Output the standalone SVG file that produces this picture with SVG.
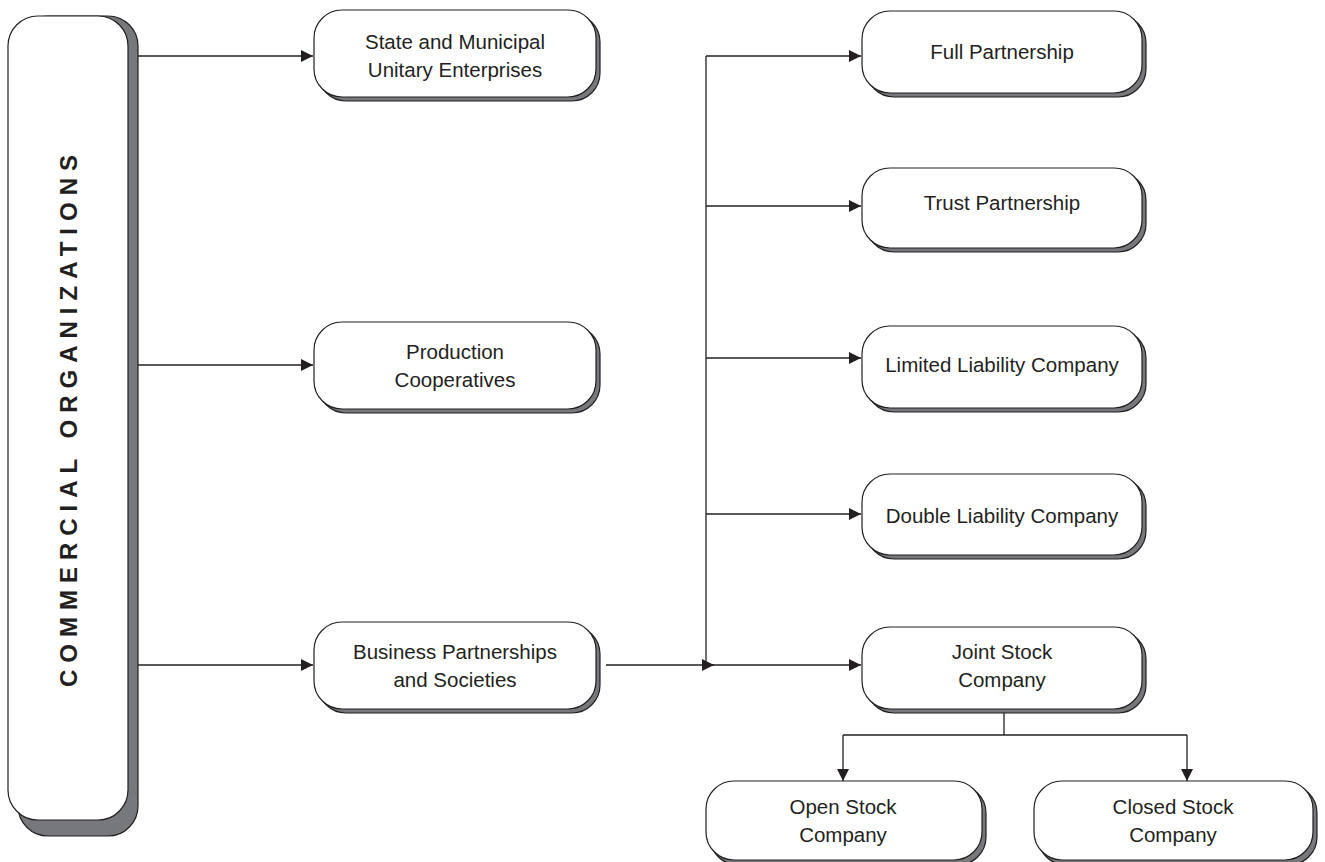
<svg xmlns="http://www.w3.org/2000/svg" width="1325" height="862" viewBox="0 0 1325 862">
<defs>
<style>
.sh{fill:#77787b;stroke:#231f20;stroke-width:1.2}
.bx{fill:#fff;stroke:#231f20;stroke-width:1.2}
.t{font-family:"Liberation Sans",Arial,sans-serif;font-size:20.5px;fill:#231f20;text-anchor:middle}
.ln{fill:none;stroke:#231f20;stroke-width:1.3}
</style>
<marker id="ah" viewBox="0 0 12 12" refX="12" refY="6" markerWidth="12" markerHeight="12" markerUnits="userSpaceOnUse" orient="auto">
<path d="M0,0 L12,6 L0,12 Z" fill="#231f20"/>
</marker>
</defs>
<rect width="1325" height="862" fill="#fff"/>
<g id="commercial">
<rect class="sh" x="18" y="16" width="120" height="820" rx="30"/>
<rect class="bx" x="8" y="16" width="120" height="804" rx="30"/>
<text transform="translate(77,417.5) rotate(-90)" font-family="'Liberation Sans',Arial,sans-serif" font-size="24" font-weight="bold" letter-spacing="7" fill="#231f20" text-anchor="middle">COMMERCIAL ORGANIZATIONS</text>
</g>
<g id="connectors">
<path class="ln" d="M138,56 H313" marker-end="url(#ah)"/>
<path class="ln" d="M138,365 H313" marker-end="url(#ah)"/>
<path class="ln" d="M138,665 H313" marker-end="url(#ah)"/>
<path class="ln" d="M606,665 H714" marker-end="url(#ah)"/>
<path class="ln" d="M706,665 V56"/>
<path class="ln" d="M706,56 H861" marker-end="url(#ah)"/>
<path class="ln" d="M706,206 H861" marker-end="url(#ah)"/>
<path class="ln" d="M706,358 H861" marker-end="url(#ah)"/>
<path class="ln" d="M706,514 H861" marker-end="url(#ah)"/>
<path class="ln" d="M706,665 H861" marker-end="url(#ah)"/>
<path class="ln" d="M1004,713 V735"/>
<path class="ln" d="M843,735 H1187"/>
<path class="ln" d="M843,735 V781" marker-end="url(#ah)"/>
<path class="ln" d="M1187,735 V781" marker-end="url(#ah)"/>
</g>
<g id="state">
<rect class="sh" x="318" y="14" width="282" height="87" rx="28"/>
<rect class="bx" x="314" y="10" width="282" height="87" rx="28"/>
<text class="t" x="455" y="49">State and Municipal</text>
<text class="t" x="455" y="77">Unitary Enterprises</text>
</g>
<g id="production">
<rect class="sh" x="318" y="326" width="282" height="87" rx="28"/>
<rect class="bx" x="314" y="322" width="282" height="87" rx="28"/>
<text class="t" x="455" y="359">Production</text>
<text class="t" x="455" y="387">Cooperatives</text>
</g>
<g id="business">
<rect class="sh" x="318" y="626" width="282" height="87" rx="28"/>
<rect class="bx" x="314" y="622" width="282" height="87" rx="28"/>
<text class="t" x="455" y="659">Business Partnerships</text>
<text class="t" x="455" y="687">and Societies</text>
</g>
<g id="full">
<rect class="sh" x="866" y="15" width="280" height="82" rx="28"/>
<rect class="bx" x="862" y="11" width="280" height="82" rx="28"/>
<text class="t" x="1002" y="59">Full Partnership</text>
</g>
<g id="trust">
<rect class="sh" x="866" y="172" width="280" height="80" rx="28"/>
<rect class="bx" x="862" y="168" width="280" height="80" rx="28"/>
<text class="t" x="1002" y="210">Trust Partnership</text>
</g>
<g id="limited">
<rect class="sh" x="866" y="330" width="280" height="82" rx="28"/>
<rect class="bx" x="862" y="326" width="280" height="82" rx="28"/>
<text class="t" x="1002" y="372">Limited Liability Company</text>
</g>
<g id="double">
<rect class="sh" x="866" y="478" width="280" height="81" rx="28"/>
<rect class="bx" x="862" y="474" width="280" height="81" rx="28"/>
<text class="t" x="1002" y="523">Double Liability Company</text>
</g>
<g id="joint">
<rect class="sh" x="866" y="631" width="280" height="82" rx="28"/>
<rect class="bx" x="862" y="627" width="280" height="82" rx="28"/>
<text class="t" x="1002" y="659">Joint Stock</text>
<text class="t" x="1002" y="687">Company</text>
</g>
<g id="open">
<rect class="sh" x="710" y="785" width="276" height="80" rx="28"/>
<rect class="bx" x="706" y="781" width="276" height="79" rx="28"/>
<text class="t" x="843" y="814">Open Stock</text>
<text class="t" x="843" y="842">Company</text>
</g>
<g id="closed">
<rect class="sh" x="1038" y="785" width="279" height="80" rx="28"/>
<rect class="bx" x="1034" y="781" width="279" height="79" rx="28"/>
<text class="t" x="1173" y="814">Closed Stock</text>
<text class="t" x="1173" y="842">Company</text>
</g>
</svg>
